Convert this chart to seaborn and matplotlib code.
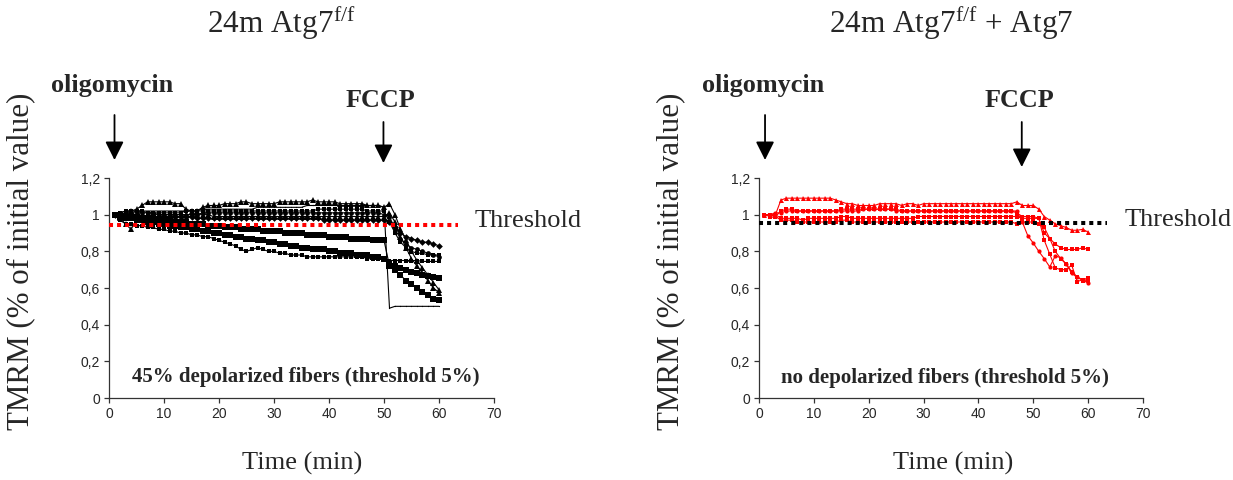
import matplotlib
matplotlib.use("Agg")
import matplotlib.pyplot as plt
from matplotlib.ticker import FuncFormatter
from matplotlib.patches import ArrowStyle
import seaborn as sns

# ---------------- data ----------------
time_min = list(range(1, 61))

# 24m Atg7 f/f (left panel), TMRM normalised to initial value
ko_tri_a = [1.00, 1.00, 1.01, 1.02, 1.03, 1.05, 1.07, 1.07, 1.07, 1.07,
            1.07, 1.06, 1.06, 1.03, 1.02, 1.02, 1.04, 1.05, 1.05, 1.05,
            1.06, 1.06, 1.06, 1.07, 1.07, 1.06, 1.06, 1.06, 1.06, 1.06,
            1.07, 1.07, 1.07, 1.07, 1.07, 1.07, 1.08, 1.07, 1.07, 1.07,
            1.07, 1.06, 1.06, 1.06, 1.06, 1.06, 1.05, 1.05, 1.05, 1.04,
            1.06, 1.00, 0.92, 0.86, 0.80, 0.75, 0.71, 0.67, 0.63, 0.59]
ko_thin = [1.00, 1.01, 1.02, 1.02, 1.02, 1.02, 1.02, 1.02, 1.02, 1.02,
           1.02, 1.02, 1.02, 1.02, 1.02, 1.02, 1.03, 1.03, 1.03, 1.03,
           1.03, 1.03, 1.03, 1.03, 1.03, 1.03, 1.04, 1.04, 1.04, 1.04,
           1.04, 1.04, 1.04, 1.04, 1.04, 1.05, 1.05, 1.05, 1.05, 1.05,
           1.05, 1.05, 1.05, 1.05, 1.05, 1.05, 1.05, 1.05, 1.05, 1.04,
           0.49, 0.50, 0.50, 0.50, 0.50, 0.50, 0.50, 0.50, 0.50, 0.50]
ko_sq_upper = [1.00, 1.00, 0.99, 0.99, 0.99, 0.98, 0.98, 0.98, 0.97, 0.97,
               0.97, 0.96, 0.96, 0.96, 0.95, 0.95, 0.95, 0.94, 0.94, 0.94,
               0.93, 0.93, 0.93, 0.92, 0.92, 0.92, 0.92, 0.91, 0.91, 0.91,
               0.91, 0.90, 0.90, 0.90, 0.90, 0.89, 0.89, 0.89, 0.89, 0.88,
               0.88, 0.88, 0.88, 0.87, 0.87, 0.87, 0.87, 0.86, 0.86, 0.86,
               0.72, 0.70, 0.67, 0.64, 0.62, 0.60, 0.58, 0.56, 0.54, 0.535]
ko_sq_lower = [1.00, 0.99, 0.98, 0.98, 0.97, 0.97, 0.96, 0.96, 0.95, 0.95,
               0.94, 0.94, 0.93, 0.93, 0.92, 0.92, 0.91, 0.91, 0.90, 0.90,
               0.89, 0.89, 0.88, 0.88, 0.87, 0.87, 0.86, 0.86, 0.85, 0.85,
               0.84, 0.84, 0.83, 0.83, 0.82, 0.82, 0.81, 0.81, 0.81, 0.80,
               0.80, 0.79, 0.79, 0.79, 0.78, 0.78, 0.78, 0.77, 0.77, 0.76,
               0.73, 0.72, 0.71, 0.70, 0.69, 0.68, 0.67, 0.665, 0.66, 0.655]
ko_sq_lowest = [1.00, 0.97, 0.95, 0.95, 0.94, 0.94, 0.93, 0.93, 0.92, 0.92,
                0.91, 0.91, 0.90, 0.90, 0.89, 0.89, 0.88, 0.88, 0.87, 0.86,
                0.85, 0.84, 0.83, 0.81, 0.80, 0.81, 0.82, 0.81, 0.80, 0.80,
                0.79, 0.79, 0.78, 0.78, 0.78, 0.77, 0.77, 0.77, 0.77, 0.77,
                0.77, 0.77, 0.77, 0.77, 0.77, 0.77, 0.76, 0.76, 0.76, 0.76,
                0.75, 0.75, 0.75, 0.75, 0.75, 0.75, 0.745, 0.745, 0.745, 0.745]
ko_diamond = [1.00, 1.00, 0.99, 0.99, 0.99, 0.99, 0.99, 0.99, 0.99, 0.99,
              0.99, 0.99, 0.99, 0.99, 0.99, 0.98, 0.98, 0.98, 0.98, 0.98,
              0.98, 0.98, 0.98, 0.98, 0.98, 0.98, 0.98, 0.98, 0.98, 0.98,
              0.98, 0.98, 0.98, 0.98, 0.98, 0.98, 0.98, 0.98, 0.97, 0.97,
              0.97, 0.97, 0.97, 0.97, 0.97, 0.97, 0.97, 0.97, 0.97, 0.97,
              0.96, 0.93, 0.90, 0.88, 0.87, 0.86, 0.85, 0.85, 0.84, 0.83]
ko_circle = [1.00, 1.00, 1.01, 1.01, 1.01, 1.01, 1.01, 1.01, 1.00, 1.00,
             1.00, 1.00, 1.00, 1.00, 1.00, 1.00, 1.01, 1.01, 1.01, 1.01,
             1.01, 1.01, 1.01, 1.01, 1.01, 1.01, 1.01, 1.01, 1.01, 1.01,
             1.01, 1.01, 1.01, 1.01, 1.01, 1.01, 1.01, 1.01, 1.01, 1.01,
             1.01, 1.01, 1.01, 1.01, 1.01, 1.01, 1.01, 1.01, 1.01, 1.00,
             0.99, 0.92, 0.87, 0.84, 0.82, 0.81, 0.80, 0.79, 0.78, 0.77]
ko_sq_small = [1.00, 1.01, 1.02, 1.02, 1.02, 1.02, 1.01, 1.01, 1.01, 1.01,
               1.01, 1.01, 1.01, 1.02, 1.02, 1.02, 1.02, 1.02, 1.02, 1.02,
               1.02, 1.02, 1.02, 1.02, 1.02, 1.02, 1.02, 1.02, 1.02, 1.02,
               1.02, 1.02, 1.02, 1.02, 1.02, 1.02, 1.02, 1.03, 1.03, 1.03,
               1.03, 1.03, 1.03, 1.03, 1.03, 1.03, 1.02, 1.02, 1.02, 1.02,
               0.96, 0.90, 0.85, 0.82, 0.80, 0.79, 0.79, 0.78, 0.78, 0.78]
ko_tri_b = [1.00, 0.98, 0.95, 0.92, 0.97, 0.99, 0.99, 1.00, 1.00, 1.00,
            1.00, 1.00, 1.00, 1.00, 1.00, 1.00, 1.00, 1.00, 0.99, 0.99,
            0.99, 0.99, 0.99, 0.99, 0.99, 0.99, 0.99, 0.99, 0.99, 0.99,
            0.99, 0.99, 0.99, 0.99, 0.99, 0.99, 0.99, 0.99, 0.99, 0.99,
            0.99, 0.99, 0.99, 0.99, 0.99, 0.99, 0.99, 0.99, 0.99, 0.99,
            1.01, 0.96, 0.88, 0.82, 0.76, 0.72, 0.68, 0.64, 0.60, 0.575]

# 24m Atg7 f/f + Atg7 (right panel)
res_tri = [1.00, 1.00, 1.00, 1.08, 1.09, 1.09, 1.09, 1.09, 1.09, 1.09,
           1.09, 1.09, 1.09, 1.08, 1.07, 1.06, 1.06, 1.05, 1.05, 1.05,
           1.05, 1.06, 1.06, 1.06, 1.06, 1.05, 1.06, 1.06, 1.05, 1.06,
           1.06, 1.06, 1.06, 1.06, 1.06, 1.06, 1.06, 1.06, 1.06, 1.06,
           1.06, 1.06, 1.06, 1.06, 1.06, 1.06, 1.07, 1.05, 1.05, 1.05,
           1.03, 0.99, 0.97, 0.95, 0.94, 0.93, 0.915, 0.915, 0.92, 0.905]
res_sq_a = [1.00, 1.00, 0.99, 1.02, 1.03, 1.03, 1.02, 1.02, 1.02, 1.02,
            1.02, 1.02, 1.02, 1.02, 1.03, 1.03, 1.03, 1.03, 1.03, 1.03,
            1.03, 1.03, 1.03, 1.03, 1.03, 1.02, 1.02, 1.02, 1.02, 1.02,
            1.02, 1.02, 1.02, 1.02, 1.02, 1.02, 1.02, 1.02, 1.02, 1.02,
            1.02, 1.02, 1.02, 1.02, 1.02, 1.02, 1.01, 0.99, 0.99, 0.99,
            0.98, 0.90, 0.87, 0.84, 0.82, 0.81, 0.81, 0.81, 0.82, 0.81]
res_circle = [1.00, 1.00, 1.01, 1.01, 1.02, 1.02, 1.02, 1.02, 1.02, 1.02,
              1.02, 1.02, 1.02, 1.02, 1.02, 1.02, 1.02, 1.02, 1.03, 1.03,
              1.03, 1.03, 1.03, 1.03, 1.02, 1.02, 1.02, 1.02, 1.02, 1.02,
              1.02, 1.02, 1.02, 1.02, 1.02, 1.02, 1.02, 1.02, 1.02, 1.02,
              1.02, 1.02, 1.02, 1.02, 1.02, 1.02, 1.02, 0.96, 0.885, 0.845,
              0.80, 0.76, 0.715, 0.775, 0.765, 0.73, 0.68, 0.66, 0.645, 0.625]
res_sq_b = [1.00, 0.99, 1.00, 0.98, 0.98, 0.98, 0.98, 0.97, 0.98, 0.98,
            0.98, 0.98, 0.98, 0.98, 0.99, 0.99, 0.98, 0.98, 0.98, 0.98,
            0.98, 0.98, 0.98, 0.98, 0.98, 0.98, 0.98, 0.98, 0.99, 0.99,
            0.99, 0.99, 0.99, 0.99, 0.99, 0.99, 0.99, 0.99, 0.99, 0.99,
            0.99, 0.99, 0.99, 0.99, 0.99, 0.99, 0.99, 0.98, 0.98, 0.98,
            0.98, 0.86, 0.785, 0.71, 0.70, 0.70, 0.725, 0.635, 0.645, 0.655]
res_sq_c = [1.00, 1.00, 0.99, 0.97, 0.97, 0.97, 0.96, 0.96, 0.96, 0.96,
            0.96, 0.96, 0.96, 0.96, 0.97, 0.97, 0.96, 0.96, 0.96, 0.96,
            0.96, 0.96, 0.96, 0.96, 0.96, 0.96, 0.96, 0.96, 0.96, 0.96,
            0.96, 0.96, 0.96, 0.96, 0.96, 0.96, 0.96, 0.96, 0.96, 0.96,
            0.96, 0.96, 0.96, 0.96, 0.96, 0.96, 0.95, 0.96, 0.96, 0.96,
            0.95, 0.93, 0.87, 0.80, 0.76, 0.73, 0.69, 0.66, 0.64, 0.645]

threshold_ko = 0.945
threshold_res = 0.953
threshold_span = [0, 63.5]

x_ticks = [0, 10, 20, 30, 40, 50, 60, 70]
y_ticks = [0, 0.2, 0.4, 0.6, 0.8, 1.0, 1.2]

title_ko = "24m Atg7$^{\\mathregular{f/f}}$"
title_res = "24m Atg7$^{\\mathregular{f/f}}$ + Atg7"
ylabel = "TMRM (% of initial value)"
xlabel = "Time (min)"
note_ko = "45% depolarized fibers (threshold 5%)"
note_res = "no depolarized fibers (threshold 5%)"

# ---------------- style ----------------
sns.set_style("white")
plt.rcParams["font.family"] = ["Liberation Serif", "DejaVu Serif"]
plt.rcParams["mathtext.fontset"] = "custom"
plt.rcParams["mathtext.rm"] = "Liberation Serif"

W, H = 1233, 480
fig = plt.figure(figsize=(W / 100, H / 100), dpi=100)
fig.patch.set_facecolor("white")

ax_l = fig.add_axes([109 / W, 82 / H, 385 / W, 220 / H])
ax_r = fig.add_axes([759 / W, 82 / H, 384 / W, 220 / H])

left_styles = [
    (ko_sq_upper, "s", 5.0, 0.8),
    (ko_sq_lower, "s", 5.0, 0.8),
    (ko_sq_lowest, "s", 3.4, 0.8),
    (ko_diamond, "D", 3.4, 0.8),
    (ko_circle, "o", 3.4, 0.8),
    (ko_sq_small, "s", 3.2, 0.8),
    (ko_tri_b, "^", 4.2, 0.8),
    (ko_tri_a, "^", 4.4, 0.8),
    (ko_thin, ".", 1.8, 0.8),
]
for vals, mk, ms, lw in left_styles:
    sns.lineplot(x=time_min, y=vals, ax=ax_l, color="black", marker=mk,
                 markersize=ms, markeredgewidth=0, linewidth=lw)

red = "#ff0000"
right_styles = [
    (res_sq_c, "s", 3.0),
    (res_sq_b, "s", 3.0),
    (res_circle, "o", 3.0),
    (res_sq_a, "s", 2.8),
    (res_tri, "^", 3.6),
]
for vals, mk, ms in right_styles:
    sns.lineplot(x=time_min, y=vals, ax=ax_r, color=red, marker=mk,
                 markersize=ms, markeredgewidth=0, linewidth=0.8)

# threshold lines
ax_l.plot(threshold_span, [threshold_ko, threshold_ko], color=red, lw=2.9,
          linestyle=(0, (1, 1)), clip_on=False, zorder=5)
ax_r.plot(threshold_span, [threshold_res, threshold_res], color="black", lw=2.9,
          linestyle=(0, (1, 1)), clip_on=False, zorder=5)

fmt = FuncFormatter(lambda v, p: f"{v:g}".replace(".", ","))
for ax in (ax_l, ax_r):
    ax.set_xlim(0, 70)
    ax.set_ylim(0, 1.2)
    ax.set_xticks(x_ticks)
    ax.set_yticks(y_ticks)
    ax.yaxis.set_major_formatter(fmt)
    ax.set_xlabel("")
    ax.set_ylabel("")
    for s in ("top", "right"):
        ax.spines[s].set_visible(False)
    for s in ("left", "bottom"):
        ax.spines[s].set_color("#333333")
        ax.spines[s].set_linewidth(0.9)
    ax.tick_params(direction="out", length=3.5, width=0.9, color="#333333",
                   labelsize=10, pad=3, left=True, bottom=True)
    for lab in ax.get_xticklabels() + ax.get_yticklabels():
        lab.set_fontfamily("Liberation Sans")
    ax.set_facecolor("white")

# Threshold labels
ax_l.text(66.4, 0.966, "Threshold", fontsize=19, va="center", ha="left", clip_on=False)
ax_r.text(66.7, 0.971, "Threshold", fontsize=19, va="center", ha="left", clip_on=False)

# notes at the bottom
ax_l.text(35.7, 0.114, note_ko, fontsize=15, fontweight="bold", ha="center", va="center")
ax_r.text(33.9, 0.109, note_res, fontsize=15, fontweight="bold", ha="center", va="center")

# drug arrows and labels
astyle = ArrowStyle("-|>", head_length=0.8, head_width=0.4)
def drug(ax, label, x_text, x_arrow, y_base, y_top, y_tip):
    ax.annotate("", xy=(x_arrow, y_tip), xytext=(x_arrow, y_top),
                xycoords=("data", "axes fraction"), textcoords=("data", "axes fraction"),
                arrowprops=dict(arrowstyle=astyle, color="black", lw=1.3,
                                mutation_scale=14, shrinkA=0, shrinkB=0),
                annotation_clip=False)
    ax.text(x_text, y_base, label, transform=ax.get_xaxis_transform(),
            fontsize=18.8, fontweight="bold", ha="center", va="baseline", clip_on=False)

def fy(px):
    return (398 - px) / 220.0

drug(ax_l, "oligomycin", 0.65, 1.0, fy(91.7), fy(115), fy(160))
drug(ax_l, "FCCP", 49.3, 49.9, fy(107.3), fy(122), fy(163))
drug(ax_r, "oligomycin", 0.73, 1.1, fy(91.7), fy(115), fy(160))
drug(ax_r, "FCCP", 47.4, 47.9, fy(107.3), fy(122), fy(167))

# titles and axis labels
fig.text(281.5 / W, 1 - 33 / H, title_ko, fontsize=22.5, ha="center", va="baseline")
fig.text(951 / W, 1 - 33 / H, title_res, fontsize=22.5, ha="center", va="baseline")
fig.text(20.7 / W, 1 - 261.5 / H, ylabel, fontsize=22.3, rotation=90, ha="center", va="center")
fig.text(671 / W, 1 - 261.5 / H, ylabel, fontsize=22.3, rotation=90, ha="center", va="center")
fig.text(301.7 / W, 1 - 463 / H, xlabel, fontsize=19, ha="center", va="center")
fig.text(953 / W, 1 - 463 / H, xlabel, fontsize=19, ha="center", va="center")

fig.savefig("out.png", dpi=100, facecolor="white")
